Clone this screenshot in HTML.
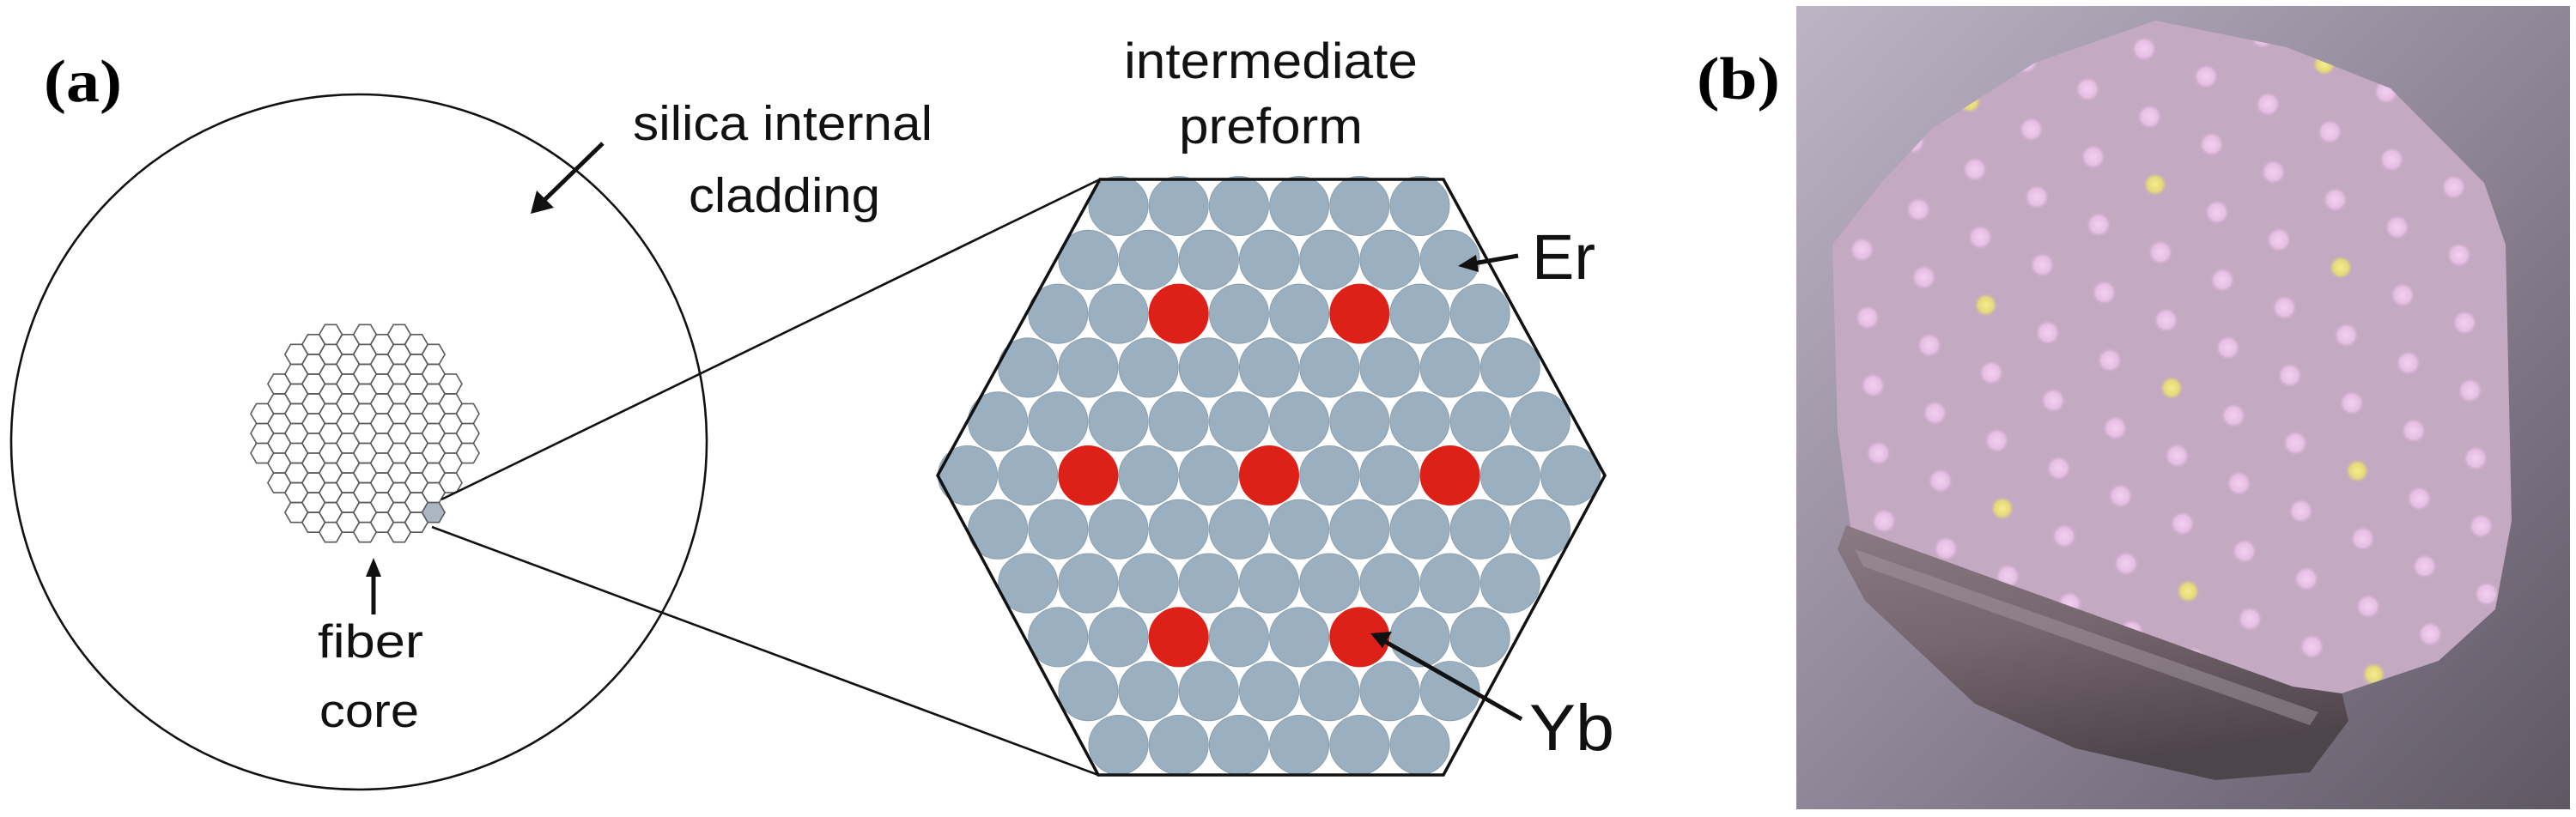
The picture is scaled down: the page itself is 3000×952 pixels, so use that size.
<!DOCTYPE html>
<html><head><meta charset="utf-8"><style>
html,body{margin:0;padding:0;background:#fff;width:3000px;height:952px;overflow:hidden}
svg{display:block}
.lb{font-family:"Liberation Sans",sans-serif;fill:#111}
.tt{font-family:"Liberation Serif",serif;font-weight:bold;fill:#000}
</style></head><body>
<svg id="s" width="3000" height="952" viewBox="0 0 3000 952" xmlns="http://www.w3.org/2000/svg">
<defs>
<linearGradient id="bg" x1="0" y1="0" x2="1" y2="1">
<stop offset="0" stop-color="#bdb4c6"/><stop offset="0.45" stop-color="#948b9c"/><stop offset="1" stop-color="#5f5864"/>
</linearGradient>
<linearGradient id="band" x1="0" y1="0" x2="0.3" y2="1">
<stop offset="0" stop-color="#8a7a84"/><stop offset="0.5" stop-color="#75656d"/><stop offset="1" stop-color="#4e454b"/>
</linearGradient>
<radialGradient id="pd"><stop offset="0" stop-color="#f2d0f0"/><stop offset="0.65" stop-color="#e6bfe4"/><stop offset="1" stop-color="#c9a8c6" stop-opacity="0"/></radialGradient>
<radialGradient id="yd"><stop offset="0" stop-color="#f5ee8a"/><stop offset="0.65" stop-color="#e4d77c"/><stop offset="1" stop-color="#c9b0b0" stop-opacity="0"/></radialGradient>
<clipPath id="pinkclip"><polygon points="2191,213 2250,150 2370,73 2510,24 2663,55 2784,103 2893,213 2918,285 2925,607 2906,710 2840,770 2727,808 2670,800 2155,614 2140,500 2134,285"/></clipPath>
</defs>

<text class="tt" x="51" y="118" font-size="70" textLength="91" lengthAdjust="spacingAndGlyphs">(a)</text>
<circle cx="418" cy="515" r="405" fill="none" stroke="#111" stroke-width="2.6"/>
<g id="hexg" fill="none" stroke="#5a5a5a" stroke-width="1.6"></g>
<line x1="514" y1="582" x2="1281" y2="209" stroke="#111" stroke-width="2.6"/>
<line x1="503" y1="614" x2="1279" y2="903" stroke="#111" stroke-width="2.6"/>

<line x1="702" y1="167" x2="632" y2="235" stroke="#111" stroke-width="5"/>
<polygon points="618,249 625,222 645,242" fill="#111"/>
<text class="lb" x="737" y="163" font-size="57" textLength="349" lengthAdjust="spacingAndGlyphs">silica internal</text>
<text class="lb" x="802" y="247" font-size="57" textLength="223" lengthAdjust="spacingAndGlyphs">cladding</text>

<line x1="435" y1="716" x2="435" y2="668" stroke="#111" stroke-width="5"/>
<polygon points="435,650 426,672 444,672" fill="#111"/>
<text class="lb" x="370" y="766" font-size="55" textLength="123" lengthAdjust="spacingAndGlyphs">fiber</text>
<text class="lb" x="372" y="847" font-size="55" textLength="116" lengthAdjust="spacingAndGlyphs">core</text>

<text class="lb" x="1309" y="91" font-size="58" textLength="342" lengthAdjust="spacingAndGlyphs">intermediate</text>
<text class="lb" x="1373" y="167" font-size="58" textLength="214" lengthAdjust="spacingAndGlyphs">preform</text>
<g id="pre"></g>
<polygon points="1281,209 1681,209 1869,554 1681,903 1279,903 1092,554" fill="none" stroke="#111" stroke-width="3.5"/>

<line x1="1768" y1="298" x2="1716" y2="307" stroke="#111" stroke-width="5"/>
<polygon points="1698,310 1719,297 1722,317" fill="#111"/>
<text class="lb" x="1784" y="325" font-size="74" textLength="74" lengthAdjust="spacingAndGlyphs">Er</text>
<line x1="1772" y1="838" x2="1612" y2="747" stroke="#111" stroke-width="5"/>
<polygon points="1596,738 1621,736 1610,755" fill="#111"/>
<text class="lb" x="1781" y="874" font-size="76" textLength="99" lengthAdjust="spacingAndGlyphs">Yb</text>

<text class="tt" x="1976" y="115" font-size="70" textLength="97" lengthAdjust="spacingAndGlyphs">(b)</text>
<rect x="2092" y="7" width="901" height="936" fill="url(#bg)"/>
<polygon points="2150,612 2727,806 2735,840 2690,900 2580,909 2417,872 2300,820 2172,700 2140,640" fill="url(#band)"/>
<polygon points="2160,640 2700,830 2690,845 2170,660" fill="#a497a0" opacity="0.5"/>
<polygon points="2191,213 2250,150 2370,73 2510,24 2663,55 2784,103 2893,213 2918,285 2925,607 2906,710 2840,770 2727,808 2670,800 2155,614 2140,500 2134,285" fill="#c4a9c3"/>
<g id="dots" clip-path="url(#pinkclip)"></g>
</svg>
<script>
(function(){
var NS="http://www.w3.org/2000/svg";
function el(p,n,a){var e=document.createElementNS(NS,n);for(var k in a)e.setAttribute(k,a[k]);p.appendChild(e);return e;}
var hg=document.getElementById('hexg');var r=13.3,cx=425,cy=505,h=Math.sqrt(3)*r;
for(var c=-7;c<=7;c++){for(var k=-8;k<=8;k++){
 var x=cx+c*1.5*r,y=cy+k*h+((Math.abs(c)%2)?h/2:0);
 var dx=x-cx,dy=y-cy;if(Math.sqrt(dx*dx+dy*dy)>123)continue;
 var pts=[];for(var i=0;i<6;i++){var a=Math.PI/3*i;pts.push((x+r*Math.cos(a)).toFixed(1)+','+(y+r*Math.sin(a)).toFixed(1));}
 var hl=(c==4&&Math.abs(y-597)<5);
 el(hg,'polygon',{points:pts.join(' '),fill:hl?'#aab6c2':'none'});
}}
var pg=document.getElementById('pre');var sp=70.2,rs=62.8,px=1478,py=554;
var reds={'-3':[-1.5,1.5],'0':[-3,0,3],'3':[-1.5,1.5]};
for(var k=-5;k<=5;k++){var n=11-Math.abs(k);for(var j=0;j<n;j++){
 var off=j-(n-1)/2;var red=reds[k]&&reds[k].indexOf(off)>=0;
 el(pg,'circle',{cx:px+off*sp,cy:py+k*rs,r:34.6,fill:red?'#dd2119':'#9aafbf',stroke:red?'#dd2119':'#8799a8','stroke-width':0.8});
}}
var dg=document.getElementById('dots');var ox=2529,oy=452,ax=72.1,ay=32.2,bx=-65.7,by=46.8;
for(var i=-12;i<=12;i++)for(var j=-12;j<=12;j++){
 var x=ox+i*ax+j*bx,y=oy+i*ay+j*by;if(x<2120||x>2940||y<20||y>830)continue;
 var yel=(((i%3)+3)%3==0)&&(((j%3)+3)%3==0);
 el(dg,'circle',{cx:x.toFixed(1),cy:y.toFixed(1),r:yel?14:15,fill:yel?'url(#yd)':'url(#pd)'});
}
})();
</script>
</body></html>
